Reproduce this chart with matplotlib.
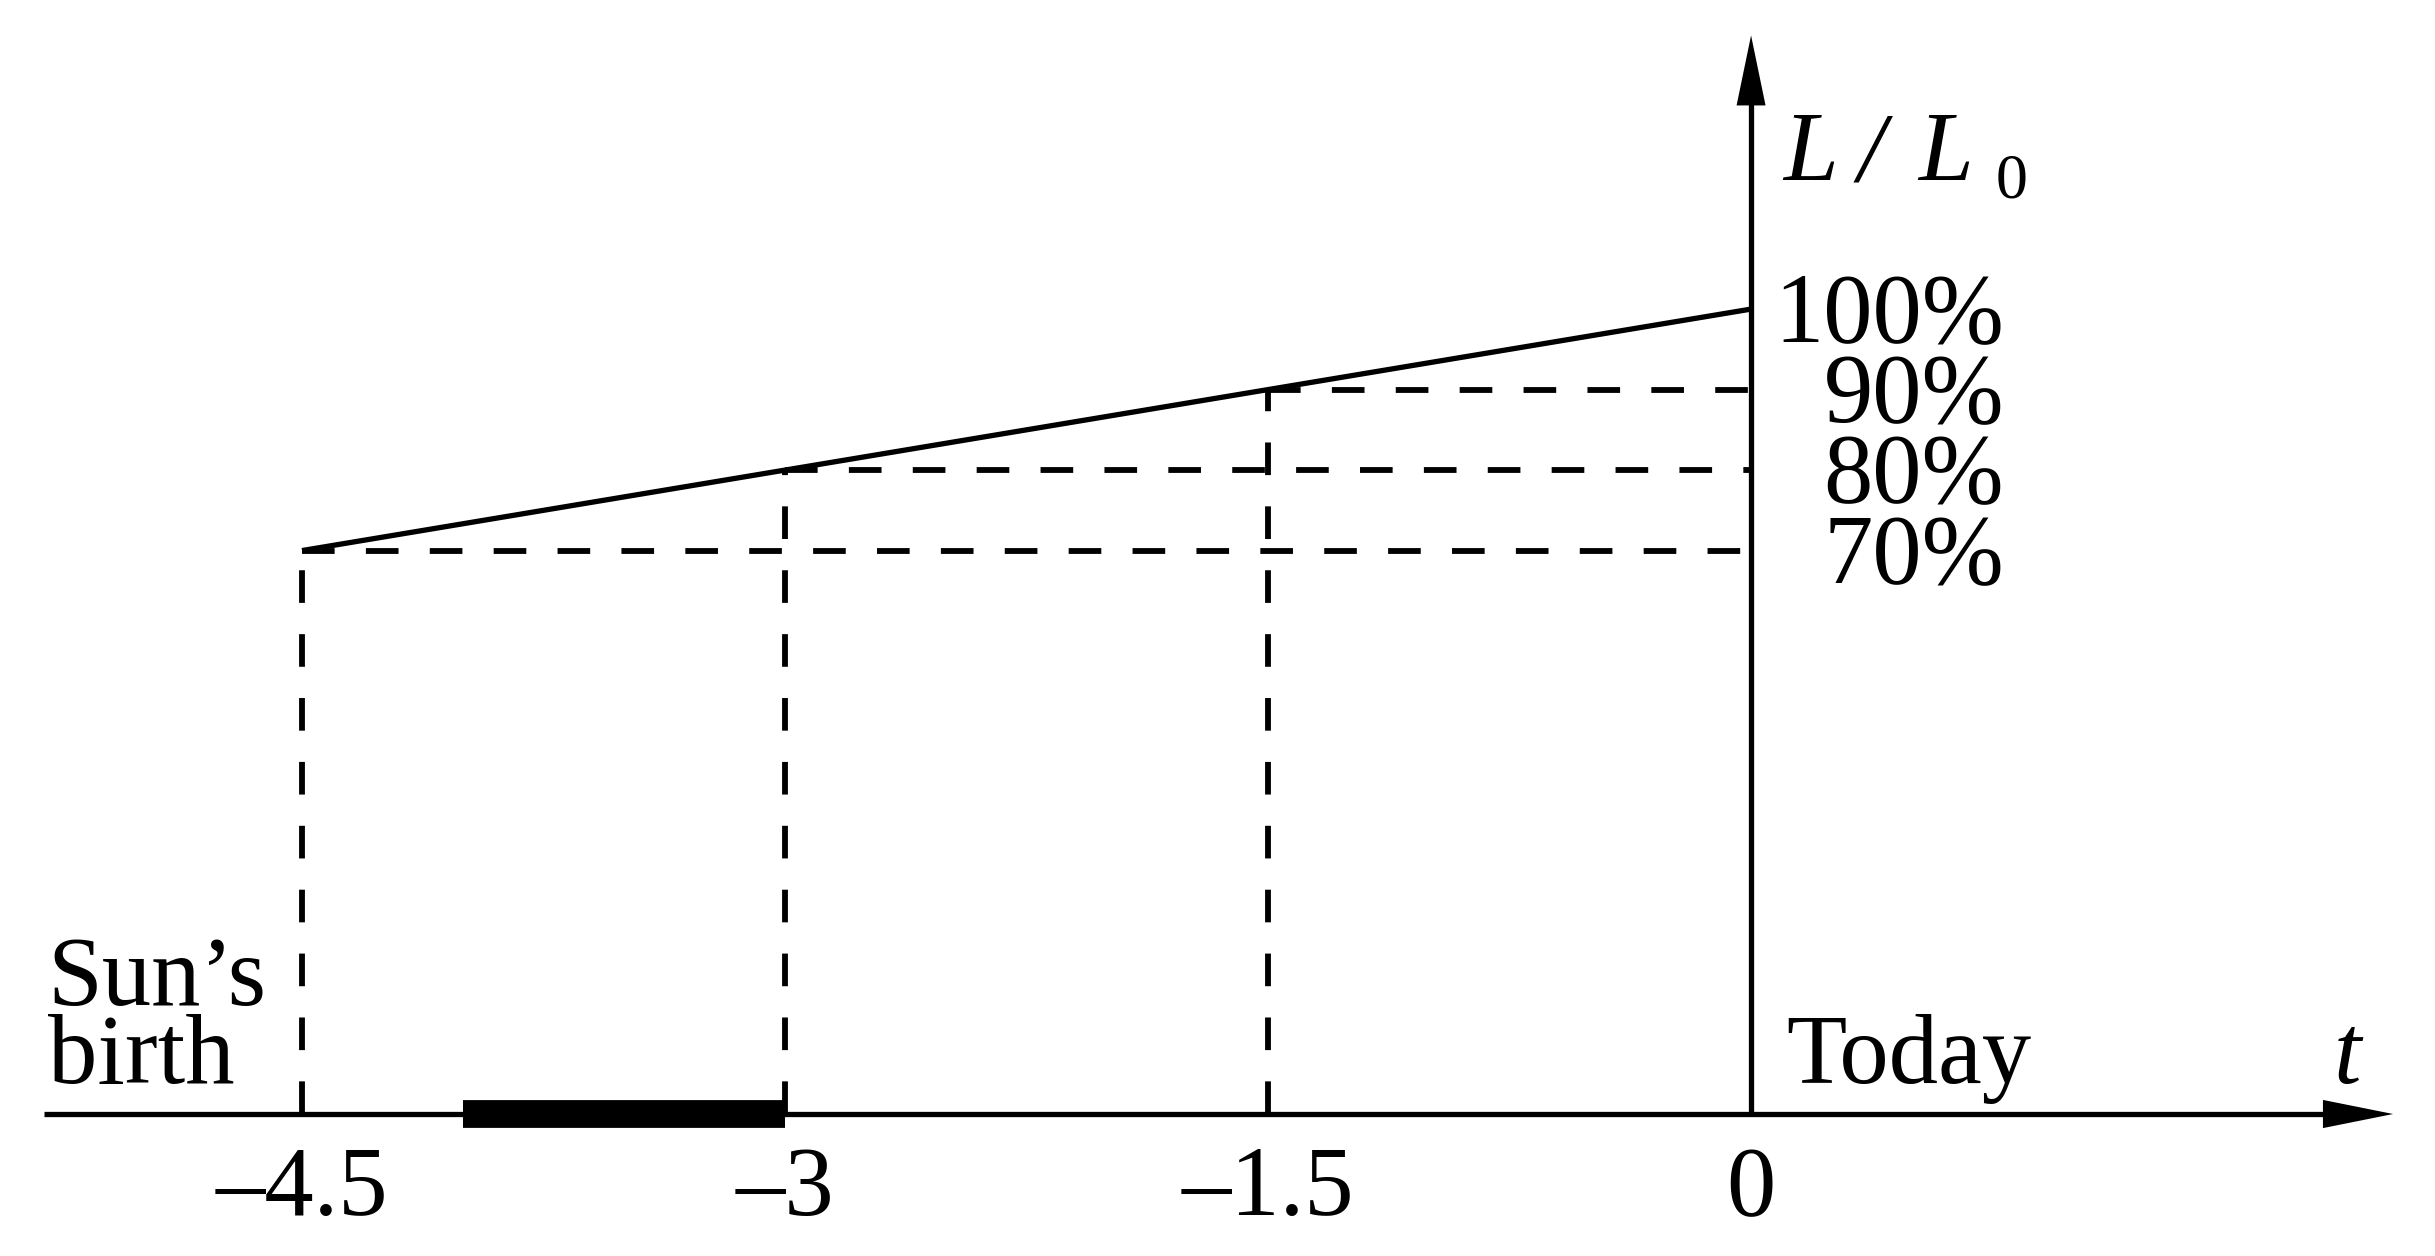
import matplotlib
matplotlib.use('Agg')
import matplotlib.pyplot as plt

# data (t in billions of years, L as % of today's luminosity)
times = [-4.5, -3, -1.5, 0]
lum = [70, 80, 90, 100]
tick_labels = ['–4.5', '–3', '–1.5', '0']
pct_labels = ['70%', '80%', '90%', '100%']
bar_span = [-4, -3]

plt.rcParams['font.family'] = ['Liberation Serif', 'DejaVu Serif']
plt.rcParams['lines.scale_dashes'] = False

fig = plt.figure(figsize=(24.35, 12.56), dpi=100)
ax = fig.add_axes([0, 0, 1, 1])
ax.axis('off')
# 322 px per unit in t, 8.05 px per % in L
ax.set_xlim(-5.438, 2.124)
ax.set_ylim(-17.64, 138.4)

lw = 3.8
fs = 71
dash = (0, (23.5, 22.5))

# axes with arrow heads
ax.plot([-5.30, 1.80], [0, 0], color='k', lw=lw, solid_capstyle='butt')
ax.plot([0, 0], [0, 126], color='k', lw=lw, solid_capstyle='butt')
ax.fill([1.994, 1.776, 1.776], [0, 1.75, -1.75], color='k', lw=0)
ax.fill([0, -0.045, 0.045], [134.0, 125.3, 125.3], color='k', lw=0)

# luminosity line
ax.plot(times, lum, color='k', lw=lw, solid_capstyle='butt')

# dashed guides
for t, l in zip(times[:-1], lum[:-1]):
    ax.plot([t, 0], [l, l], color='k', lw=4.2, linestyle=dash, dash_capstyle='butt')
    ax.plot([t, t], [0, l], color='k', lw=4.2, linestyle=dash, dash_capstyle='butt')

# thick bar on the time axis
ax.plot(bar_span, [0, 0], color='k', lw=20, solid_capstyle='butt')

# tick labels
for t, lab in zip(times, tick_labels):
    ax.text(t, -12.6, lab, fontsize=fs, ha='center', va='baseline')

# percent labels
for l, lab in zip(lum, pct_labels):
    ax.text(0.786, l - 4.0, lab, fontsize=fs, ha='right', va='baseline')

# axis titles
ax.text(0.099, 116.0, 'L', fontsize=fs, style='italic', va='baseline')
ax.text(0.332, 116.0, '/', fontsize=fs, style='italic', va='baseline')
ax.text(0.519, 116.0, 'L', fontsize=fs, style='italic', va='baseline')
ax.text(0.758, 113.9, '0', fontsize=46, va='baseline')
ax.text(1.81, 3.85, 't', fontsize=fs, style='italic', va='baseline')

ax.text(-5.29, 13.5, 'Sun’s', fontsize=fs, va='baseline')
ax.text(-5.29, 3.85, 'birth', fontsize=fs, va='baseline')
ax.text(0.109, 3.85, 'Today', fontsize=fs, va='baseline')

fig.savefig('out.png', dpi=100)
